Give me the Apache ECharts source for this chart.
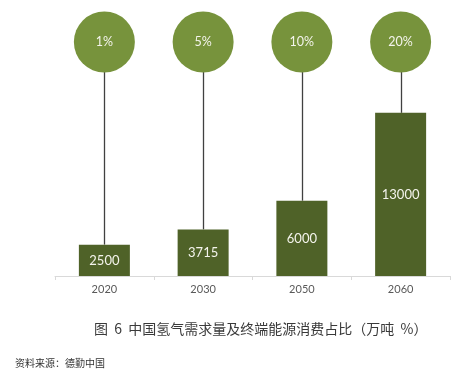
<!DOCTYPE html>
<html><head><meta charset="utf-8">
<script src="https://cdn.jsdelivr.net/npm/echarts@6/dist/echarts.min.js"></script>
<style>html,body{margin:0;padding:0;background:#fff;}#c{width:461px;height:376px;}</style>
</head><body><div id="c"></div>
<script>
const categories = ['2020', '2030', '2050', '2060'];
const demand = [2500, 3715, 6000, 13000];
const shares = ['1%', '5%', '10%', '20%'];
const titleText = '图  6  中国氢气需求量及终端能源消费占比（万吨  %）';
const sourceText = '资料来源：德勤中国';

const chart = echarts.init(document.getElementById('c'), null, {renderer: 'canvas'});
const CIRCLE_Y = 42, R = 30.5;
chart.setOption({
  backgroundColor: '#ffffff',
  animation: false,
  grid: {left: 55, right: 11, top: 25, bottom: 100},
  xAxis: {
    type: 'category', data: categories, boundaryGap: true,
    axisLine: {lineStyle: {color: '#d9d9d9', width: 1}},
    axisTick: {show: true, length: 4, lineStyle: {color: '#d9d9d9'}},
    axisLabel: {color: '#595959', fontSize: 11, margin: 8, fontFamily: 'Lato, sans-serif'}
  },
  yAxis: {type: 'value', min: 0, max: 20000, show: false, splitLine: {show: false}},
  title: [
    {text: titleText, left: 89, top: 317, textStyle: {fontSize: 14, fontWeight: 'normal', color: '#3a3a3a', fontFamily: '"Noto Sans CJK SC", sans-serif'}},
    {text: sourceText, left: 10, top: 353, textStyle: {fontSize: 10, fontWeight: 'normal', color: '#333', fontFamily: '"Noto Sans CJK SC", sans-serif'}}
  ],
  series: [
    {
      type: 'custom', z: 1,
      data: demand.map((v, i) => [i, v]),
      renderItem: function (params, api) {
        const p = api.coord([api.value(0), api.value(1)]);
        const x = Math.round(p[0]) + 0.5;
        return {
          type: 'group',
          children: [
            {type: 'line', shape: {x1: x, y1: CIRCLE_Y, x2: x, y2: p[1]}, style: {stroke: '#404040', lineWidth: 1.3}},
            {type: 'circle', shape: {cx: p[0], cy: CIRCLE_Y, r: R}, style: {fill: '#77933c'}},
            {type: 'text', style: {text: shares[params.dataIndex], x: p[0], y: CIRCLE_Y, align: 'center', verticalAlign: 'middle', fill: '#f4f4ec', fontSize: 12.5, fontFamily: 'Lato, sans-serif'}}
          ]
        };
      }
    },
    {
      type: 'bar', z: 2, data: demand, barWidth: 51,
      itemStyle: {color: '#4f6228'},
      label: {show: true, position: 'inside', color: '#f4f4ec', fontSize: 13, fontFamily: 'Lato, sans-serif'}
    }
  ]
});
</script></body></html>
